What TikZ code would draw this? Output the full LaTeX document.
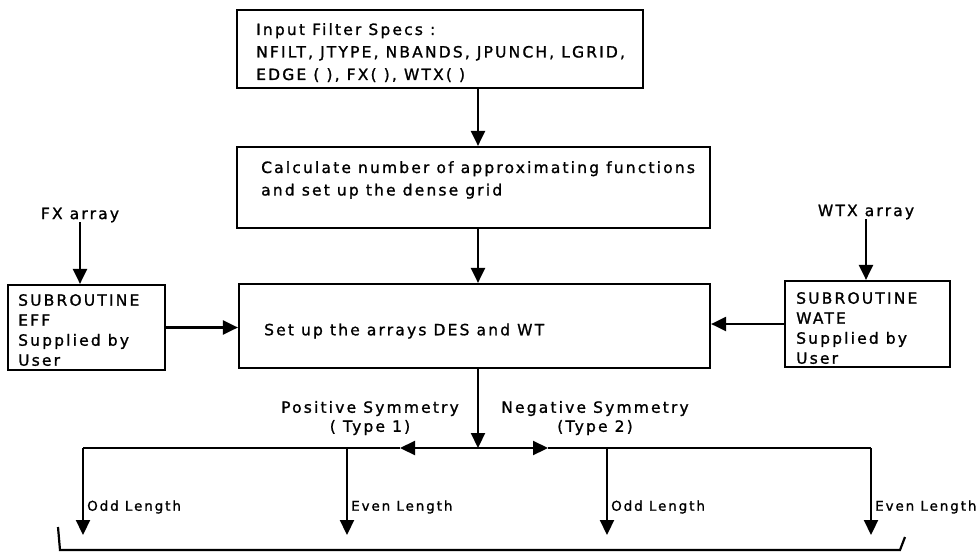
\documentclass[tikz,border=0pt]{standalone}
\usepackage{fontspec}
\setmainfont{DejaVu Sans}[LetterSpace=14, FakeBold=1.2]
\usetikzlibrary{arrows.meta}

\tikzset{
    box/.style={draw, line width=2.2pt, inner sep=0pt},
    txt/.style={align=left, inner sep=0pt, font=\fontsize{15.5}{22.5}\selectfont},
    lbl/.style={inner sep=0pt, font=\fontsize{15.5}{19}\selectfont},
    arr/.style={line width=2.2pt, -{Triangle[length=15pt, width=14pt]}},
    line/.style={line width=2.2pt}
}

\begin{document}
\begin{tikzpicture}[x=1pt, y=-1pt]
            \useasboundingbox (0, 0) rectangle (980, 552);
            %\draw[lightgray] (0, 0) grid[step=50] (980, 552);

            % boxes
            \node[box, minimum width=406, minimum height=78](spec) at (440, 49) {};
            \node[txt, anchor=north west](spec-t) at (256, 23) {Input Filter Specs :\\NFILT, JTYPE, NBANDS, JPUNCH, LGRID,\\EDGE ( ), FX( ), WTX( )};
            \node[box, minimum width=473, minimum height=81](grid) at (473.5, 187.5) {};
            \node[txt, anchor=north west](grid-t) at (261, 161) {Calculate number of approximating functions\\and set up the dense grid};
            \node[box, minimum width=471, minimum height=84](arrays) at (474.5, 326) {};
            \node[txt, anchor=west](arrays-t) at (264, 331) {Set up the arrays DES and WT};
            \node[box, minimum width=157, minimum height=85](eff) at (86.5, 327.5) {};
            \node[txt, anchor=north west, font=\fontsize{15.5}{20}\selectfont](eff-t) at (18, 294) {SUBROUTINE\\EFF\\Supplied by\\User};
            \node[box, minimum width=165, minimum height=86](wate) at (867.5, 324) {};
            \node[txt, anchor=north west, font=\fontsize{15.5}{20}\selectfont](wate-t) at (796, 292) {SUBROUTINE\\WATE\\Supplied by\\User};

            \node[lbl](fx) at (80, 215) {FX array};
            \node[lbl](wtx) at (866, 212) {WTX array};

            \coordinate (mid) at (478, 0);
            \coordinate (split) at (478, 448);
            \coordinate (ptip) at (400, 448);
            \coordinate (ntip) at (548, 448);

            \draw[arr] (spec.south -| mid) -- (grid.north -| mid);
            \draw[arr] (grid.south -| mid) -- (arrays.north -| mid);
            \draw[arr] (fx.south) -- (fx.south |- eff.north);
            \draw[arr] (wtx.south) -- (wtx.south |- wate.north);
            \draw[arr] (eff.east) -- (eff.east -| arrays.west);
            \draw[arr] (wate.west) -- (wate.west -| arrays.east);
            \draw[arr] (arrays.south -| mid) -- (split);

            % symmetry branches
            \draw[arr] (split) -- (ptip);
            \draw[arr] (split) -- (ntip);
            \draw[line] (ptip) -- (83, 448);
            \draw[line] (ntip) -- (871, 448);
            \node[lbl, align=center](pos) at (370, 418) {Positive Symmetry\\( Type 1)};
            \node[lbl, align=center](neg) at (595, 418) {Negative Symmetry\\(Type 2)};

            \foreach \x/\name/\txt in {83/odd1/Odd Length, 347/even1/Even Length, 607/odd2/Odd Length, 871/even2/Even Length} {
                \coordinate (\name) at (\x, 535);
                \draw[arr] (\x, 448) -- (\name);
                \node[lbl, anchor=west, font=\fontsize{13.5}{16}\selectfont] at (\x + 4, 507) {\txt};
            }

            % bracket
            \draw[line] (58, 527) -- (60, 550) -- (900, 550) -- (905, 537);
        \end{tikzpicture}
\end{document}
